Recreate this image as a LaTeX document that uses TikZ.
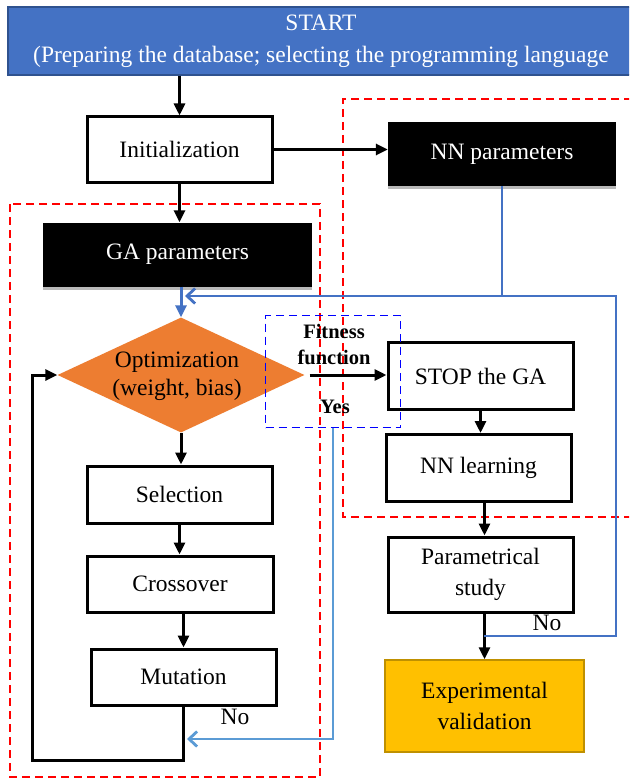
\documentclass[tikz,border=0pt]{standalone}
\usepackage{fontspec}
\setmainfont{Liberation Serif}
\usetikzlibrary{arrows.meta,shapes.geometric,shadows}
\definecolor{startblue}{HTML}{4472C4}
\definecolor{startedge}{HTML}{2F528F}
\definecolor{linkblue}{HTML}{4472C4}
\definecolor{lightlink}{HTML}{5B9BD5}
\definecolor{optorange}{HTML}{ED7D31}
\definecolor{gold}{HTML}{FFC000}
\definecolor{goldedge}{HTML}{BF9000}
\definecolor{groupred}{HTML}{FF0000}
\definecolor{fitblue}{HTML}{0000FF}
\newcommand{\regfont}{\fontsize{23.5}{31}\selectfont}
\newcommand{\lblfont}{\fontsize{20.5}{26}\selectfont\bfseries}
\begin{document}
\begin{tikzpicture}[x=1pt,y=-1pt,
  stepbox/.style={draw=black, line width=3pt, fill=white, inner sep=0pt,
    font=\regfont, align=center},
  darkbox/.style={fill=black, text=white, inner sep=0pt, font=\regfont,
    drop shadow={shadow xshift=0pt, shadow yshift=-3pt, fill=gray!55, opacity=1}},
  arr/.style={-{Triangle[length=12pt,width=11pt]}, line width=3pt, black},
  bluearr/.style={-{Triangle[length=12pt,width=11pt]}, line width=3pt, linkblue},
  blueline/.style={line width=2.8pt, linkblue},
  groupbox/.style={draw=groupred, line width=2.2pt, dash pattern=on 8pt off 5pt},
  lbl/.style={font=\lblfont, inner sep=0pt},
  nolbl/.style={font=\regfont, inner sep=0pt}
]
\useasboundingbox (0,0) rectangle (629,778);
\clip (0,0) rectangle (629,778);
\fill[white] (0,0) rectangle (629,778);

% dashed group frames
\draw[groupbox] (10,204) rectangle (320,777);
\draw[groupbox] (632,99) -- (343,99) -- (343,517) -- (632,517);

% start banner
\node[fill=startblue, draw=startedge, line width=1.5pt, text=white,
  minimum width=626pt, minimum height=68pt, inner sep=0pt,
  font=\fontsize{23.5}{32}\selectfont, align=center]
  (start) at (321,41) {START\\(Preparing the database; selecting the programming language};

% left column (genetic algorithm)
\node[stepbox, minimum width=185pt, minimum height=65pt] (init) at (179.5,149.5) {Initialization};
\node[darkbox, minimum width=269pt, minimum height=64pt] (gap) at (177.5,254.5) {GA parameters};
\node[diamond, fill=optorange, minimum width=247pt, minimum height=115pt,
  inner sep=0pt] (opt) at (181,375) {};
\node[font=\fontsize{23.5}{28}\selectfont, align=center] (opttext) at (177,376)
  {Optimization\\(weight, bias)};
\node[stepbox, minimum width=185pt, minimum height=57pt] (sel) at (179.5,494.5) {Selection};
\node[stepbox, minimum width=186pt, minimum height=56pt] (cross) at (180,584) {Crossover};
\node[stepbox, minimum width=185pt, minimum height=56pt] (mut) at (183.5,677) {Mutation};

% right column (neural network)
\node[darkbox, minimum width=228pt, minimum height=64pt] (nnp) at (502,154) {NN parameters};
\node[stepbox, minimum width=185pt, minimum height=67pt] (stop) at (480.5,376) {STOP the GA};
\node[stepbox, minimum width=185pt, minimum height=67pt] (nnl) at (478.5,468) {NN learning};
\node[stepbox, minimum width=185pt, minimum height=75pt] (par) at (480.5,574.5)
  {Parametrical\\study};
\node[fill=gold, draw=goldedge, line width=1.5pt, minimum width=199pt,
  minimum height=92pt, inner sep=0pt, font=\regfont, align=center]
  (exp) at (484.5,706) {Experimental\\validation};

% fitness check frame and labels
\node[draw=fitblue, line width=1.9pt, dash pattern=on 8pt off 5pt,
  minimum width=135pt, minimum height=112pt, inner sep=0pt] (fit) at (333,371.5) {};
\node[lbl] (fitness) at (334,331) {Fitness};
\node[lbl] (function) at (334,357) {function};
\node[lbl] (yes) at (335,407) {Yes};
\node[nolbl] (no1) at (235,717) {No};
\node[nolbl] (no2) at (547,623) {No};

% main flow
\draw[arr] (start.south -| init.north) -- (init.north);
\draw[arr] (init.east) -- (init.east -| nnp.west);
\draw[arr] (init.south) -- (init.south |- gap.north);
\draw[bluearr] (opt.north |- gap.south) -- (opt.north);
\draw[arr] ([xshift=5pt]opt.east) -- (opt.east -| stop.west);
\draw[arr] (opt.south) -- (opt.south |- sel.north);
\draw[arr] (sel.south) -- (sel.south |- cross.north);
\draw[arr] (cross.south -| mut.north) -- (mut.north);
\draw[arr] (stop.south) -- (stop.south |- nnl.north);
\draw[arr] (nnl.south -| exp.north) -- (par.north -| exp.north);
\draw[arr] (par.south -| exp.north) -- (exp.north);

% genetic loop back to the optimization step
\coordinate (loopcorner) at (32,760);
\draw[arr] (mut.south) |- (loopcorner) |- (opt.west);

% NN feedback to the optimization step
\coordinate (nojoin) at (484,636);
\coordinate (rightturn) at (616,296);
\coordinate (gajoin) at (185,296);
\draw[blueline, -{Straight Barb[length=8pt,width=15pt]}] (nojoin) -| (rightturn) -- (gajoin);
\draw[blueline] (nnp.south) -- (nnp.south |- rightturn);

% "Yes" branch back into the loop
\coordinate (yesend) at (187,739);
\draw[line width=2.8pt, lightlink, -{Straight Barb[length=8pt,width=15pt]}]
  (fit.south) |- (yesend);
\end{tikzpicture}
\end{document}
